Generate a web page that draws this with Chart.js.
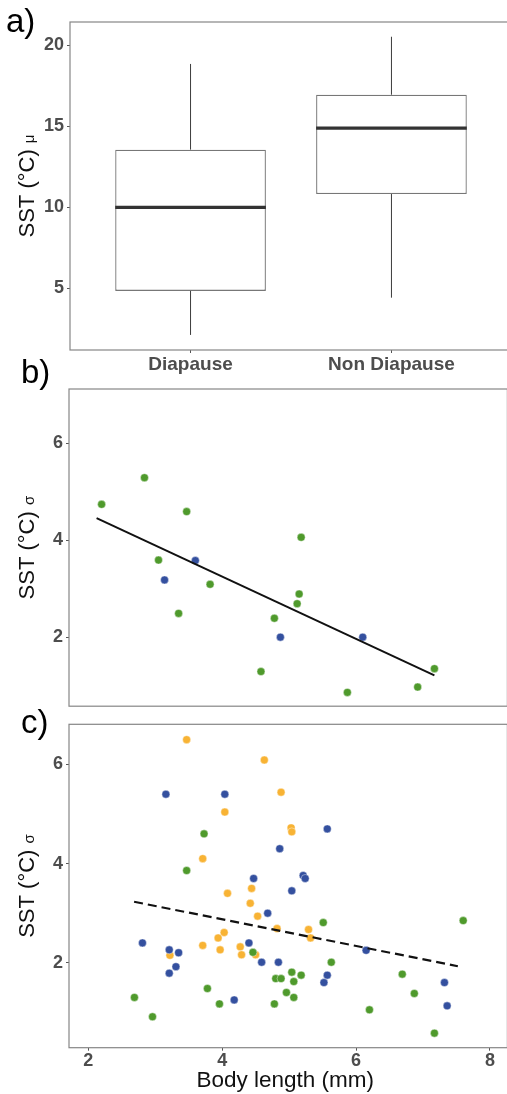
<!DOCTYPE html>
<html>
<head>
<meta charset="utf-8">
<script src="https://cdn.jsdelivr.net/npm/chart.js@4.4.1/dist/chart.umd.min.js"></script>
<style>
  html, body { margin: 0; padding: 0; background: #fff; }
  #wrap { position: relative; width: 507px; height: 1094px; overflow: hidden; }
  canvas { position: absolute; left: 0; }
</style>
</head>
<body>
<div id="wrap">
  <canvas id="chartA" width="512" height="376" style="top:0px"></canvas>
  <canvas id="chartB" width="512" height="362" style="top:358px"></canvas>
  <canvas id="chartC" width="512" height="394" style="top:700px"></canvas>
</div>
<script>
// ---- panel a: boxplot summary ----
const groups = ['Diapause', 'Non Diapause'];
const groupPos = [1, 2];
const boxMin = [2.13, 4.43];
const boxQ1 = [4.85, 10.83];
const boxMed = [10.0, 14.9];
const boxQ3 = [13.57, 16.96];
const boxMax = [18.86, 20.54];
const aTicks = [5, 10, 15, 20];

// ---- panel b ----
const bGreenX = [2.20, 2.84, 3.47, 3.05, 3.82, 3.35, 5.18, 5.15, 5.12, 4.78, 4.58, 5.87, 6.92, 7.17];
const bGreenY = [4.74, 5.29, 4.59, 3.59, 3.09, 2.49, 4.06, 2.89, 2.69, 2.39, 1.29, 0.86, 0.97, 1.35];
const bBlueX = [3.60, 3.14, 4.87, 6.10];
const bBlueY = [3.58, 3.18, 2.00, 2.00];
const bFitX = [2.125, 7.17];
const bFitY = [4.455, 1.21];

// ---- panel c ----
const cOrangeX = [3.47, 4.63, 4.88, 4.04, 5.03, 5.04, 3.71, 4.08, 4.44, 4.42, 4.53, 4.82, 5.29, 5.32, 4.03, 3.94, 3.71, 3.97, 4.27, 4.29, 4.50, 3.22];
const cOrangeY = [6.50, 6.09, 5.44, 5.04, 4.72, 4.64, 4.10, 3.40, 3.50, 3.20, 2.94, 2.69, 2.67, 2.50, 2.61, 2.50, 2.35, 2.26, 2.32, 2.16, 2.16, 2.15];
const cBlueX = [3.16, 4.04, 5.57, 4.86, 4.47, 5.21, 5.24, 5.04, 4.68, 4.40, 2.81, 3.21, 3.35, 3.31, 3.21, 4.59, 4.84, 4.18, 5.57, 5.52, 6.15, 7.32, 7.36];
const cBlueY = [5.40, 5.40, 4.70, 4.30, 3.70, 3.76, 3.70, 3.45, 3.00, 2.40, 2.40, 2.26, 2.20, 1.92, 1.79, 2.01, 2.01, 1.25, 1.75, 1.60, 2.25, 1.60, 1.13];
const cGreenX = [3.73, 3.47, 5.51, 7.60, 4.46, 5.63, 5.04, 5.18, 4.80, 4.88, 5.07, 4.96, 5.07, 4.78, 3.78, 3.96, 2.69, 2.96, 6.20, 6.69, 6.87, 7.17];
const cGreenY = [4.60, 3.86, 2.81, 2.85, 2.21, 2.01, 1.81, 1.75, 1.68, 1.68, 1.62, 1.40, 1.30, 1.17, 1.48, 1.17, 1.30, 0.91, 1.05, 1.77, 1.38, 0.58];
const cFitX = [2.685, 7.52];
const cFitY = [3.23, 1.93];

const sigmaTicks = [2, 4, 6];
const lengthTicks = [2, 4, 6, 8];

const FONT = "'Liberation Sans', Arial, Helvetica, sans-serif";
const GREEN = '#4f9a2c', BLUE = '#34509f', ORANGE = '#f8b334';
const TICK_COLOR = '#4d4d4d';

const zip = (xs, ys) => xs.map((x, i) => ({ x: x, y: ys[i] }));

// frame, panel letter and axis titles
const panelDecor = {
  id: 'panelDecor',
  afterDraw(chart, args, o) {
    const ctx = chart.ctx, a = chart.chartArea;
    ctx.save();
    ctx.strokeStyle = '#868686';
    ctx.lineWidth = 1.2;
    ctx.strokeRect(a.left, a.top, a.right - a.left, a.bottom - a.top);

    ctx.fillStyle = '#000';
    ctx.textAlign = 'left';
    ctx.textBaseline = 'alphabetic';
    ctx.font = '33px ' + FONT;
    ctx.fillText(o.letter, o.letterX, o.letterY);

    if (o.xTitle) {
      ctx.font = '22.5px ' + FONT;
      ctx.textAlign = 'center';
      ctx.fillStyle = '#111';
      ctx.fillText(o.xTitle, (a.left + a.right) / 2 - 3, o.xTitleY);
      ctx.textAlign = 'left';
    }

    ctx.translate(o.yTitleX, (a.top + a.bottom) / 2);
    ctx.rotate(-Math.PI / 2);
    ctx.fillStyle = '#111';
    ctx.font = '22px ' + FONT;
    const w1 = ctx.measureText(o.yTitle).width;
    ctx.font = '15px ' + FONT;
    const w2 = ctx.measureText(o.yGreek).width;
    const x0 = -(w1 + w2) / 2;
    ctx.font = '22px ' + FONT;
    ctx.fillText(o.yTitle, x0, 0);
    ctx.font = '15px ' + FONT;
    ctx.fillText(o.yGreek, x0 + w1, 0);
    ctx.restore();
  }
};

const tickFont = { family: FONT, size: 18, weight: 'bold' };
const gridTicksOnly = { drawOnChartArea: false, drawTicks: true, tickLength: 3, color: '#555', lineWidth: 1, offset: false };

function fixedTicks(list) {
  return scale => { scale.ticks = list.map(v => ({ value: v })); };
}

const common = {
  responsive: false,
  animation: false,
  events: [],
  devicePixelRatio: 1,
};

// ---------- a) ----------
const whiskers = [];
groupPos.forEach((p, i) => {
  whiskers.push({
    type: 'line',
    data: [{ x: p, y: boxMin[i] }, { x: p, y: boxQ1[i] }, { x: p, y: null }, { x: p, y: boxQ3[i] }, { x: p, y: boxMax[i] }],
    borderColor: '#3c3c3c', borderWidth: 1, pointRadius: 0, spanGaps: false
  });
});

new Chart(document.getElementById('chartA'), {
  type: 'bar',
  data: {
    datasets: [
      {
        type: 'scatter',
        data: zip(groupPos, boxMed),
        pointStyle: 'line',
        pointRadius: ctx => {
          const s = ctx.chart.scales.x;
          return Math.abs(s.getPixelForValue(1.375) - s.getPixelForValue(1));
        },
        borderColor: '#333', borderWidth: 3.2
      },
      ...whiskers,
      {
        type: 'bar',
        data: groupPos.map((p, i) => ({ x: p, y: [boxQ1[i], boxQ3[i]] })),
        backgroundColor: '#fff',
        borderColor: '#777',
        borderWidth: 1.3,
        borderSkipped: false,
        categoryPercentage: 0.75,
        barPercentage: 1
      }
    ]
  },
  options: {
    ...common,
    layout: { padding: { top: 22, left: 0, right: 0, bottom: 0 } },
    plugins: {
      legend: { display: false }, tooltip: { enabled: false },
      panelDecor: { letter: 'a)', letterX: 6, letterY: 32, yTitle: 'SST (°C) ', yGreek: 'μ', yTitleX: 33.5 }
    },
    scales: {
      x: {
        type: 'linear', min: 0.4, max: 2.6, offset: false,
        afterBuildTicks: fixedTicks(groupPos),
        afterFit: s => { s.height = 26; },
        grid: gridTicksOnly, border: { display: false },
        ticks: { font: { family: FONT, size: 19, weight: 'bold' }, color: TICK_COLOR, padding: 0,
                 callback: v => groups[groupPos.indexOf(v)] }
      },
      y: {
        min: 1.2, max: 21.45,
        afterBuildTicks: fixedTicks(aTicks),
        afterFit: s => { s.width = 70; },
        grid: gridTicksOnly, border: { display: false },
        ticks: { font: tickFont, color: TICK_COLOR, padding: 3 }
      }
    }
  },
  plugins: [panelDecor]
});

// ---------- b) ----------
const pointStyle = { pointRadius: 4, pointBorderColor: 'rgba(255,255,255,0.7)', pointBorderWidth: 0.6 };

new Chart(document.getElementById('chartB'), {
  type: 'scatter',
  data: {
    datasets: [
      { type: 'line', data: zip(bFitX, bFitY), borderColor: '#111', borderWidth: 2, pointRadius: 0 },
      { data: zip(bBlueX, bBlueY), backgroundColor: BLUE, ...pointStyle },
      { data: zip(bGreenX, bGreenY), backgroundColor: GREEN, ...pointStyle }
    ]
  },
  options: {
    ...common,
    layout: { padding: { top: 31, left: 0, right: 3, bottom: 3.3 } },
    plugins: {
      legend: { display: false }, tooltip: { enabled: false },
      panelDecor: { letter: 'b)', letterX: 21, letterY: 25, yTitle: 'SST (°C) ', yGreek: 'σ', yTitleX: 33.5 }
    },
    scales: {
      x: { type: 'linear', min: 1.713, max: 8.26, display: false },
      y: {
        min: 0.575, max: 7.12,
        afterBuildTicks: fixedTicks(sigmaTicks),
        afterFit: s => { s.width = 69; },
        grid: gridTicksOnly, border: { display: false },
        ticks: { font: tickFont, color: TICK_COLOR, padding: 3 }
      }
    }
  },
  plugins: [panelDecor]
});

// ---------- c) ----------
new Chart(document.getElementById('chartC'), {
  type: 'scatter',
  data: {
    datasets: [
      { type: 'line', data: zip(cFitX, cFitY), borderColor: '#111', borderWidth: 2.2, borderDash: [9, 5], pointRadius: 0 },
      { data: zip(cBlueX, cBlueY), backgroundColor: BLUE, ...pointStyle },
      { data: zip(cGreenX, cGreenY), backgroundColor: GREEN, ...pointStyle },
      { data: zip(cOrangeX, cOrangeY), backgroundColor: ORANGE, ...pointStyle }
    ]
  },
  options: {
    ...common,
    layout: { padding: { top: 24.3, left: 0, right: 3, bottom: 0 } },
    plugins: {
      legend: { display: false }, tooltip: { enabled: false },
      panelDecor: { letter: 'c)', letterX: 21, letterY: 33, yTitle: 'SST (°C) ', yGreek: 'σ', yTitleX: 33.5,
                    xTitle: 'Body length (mm)', xTitleY: 387 }
    },
    scales: {
      x: {
        type: 'linear', min: 1.713, max: 8.26,
        afterBuildTicks: fixedTicks(lengthTicks),
        afterFit: s => { s.height = 46.3; },
        grid: gridTicksOnly, border: { display: false },
        ticks: { font: tickFont, color: TICK_COLOR, padding: 0 }
      },
      y: {
        min: 0.286, max: 6.81,
        afterBuildTicks: fixedTicks(sigmaTicks),
        afterFit: s => { s.width = 69; },
        grid: gridTicksOnly, border: { display: false },
        ticks: { font: tickFont, color: TICK_COLOR, padding: 3 }
      }
    }
  },
  plugins: [panelDecor]
});
</script>
</body>
</html>
